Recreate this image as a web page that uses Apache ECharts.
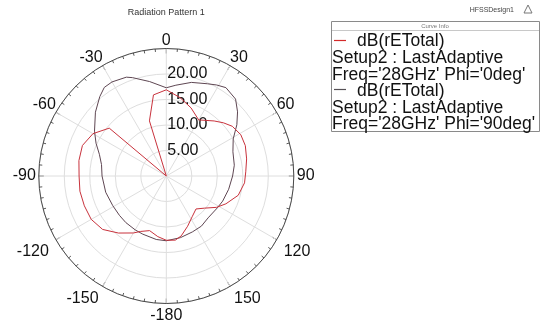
<!DOCTYPE html>
<html>
<head>
<meta charset="utf-8">
<script src="https://cdn.jsdelivr.net/npm/echarts@6/dist/echarts.min.js"></script>
<style>
  html, body { margin: 0; padding: 0; background: #fff; }
  #chart { width: 542px; height: 324px; }
</style>
</head>
<body>
<div id="chart"></div>
<script>
// Radiation pattern, dB(rETotal) vs theta (deg)
const phi0Angles = [-180, -172, -163, -155, -150, -140, -130, -120, -110, -100, -90, -80, -70, -60, -50, -35, -17, -9, 0, 10, 20, 30, 41, 47, 53, 61, 69, 78, 87, 95, 105, 115, 122, 130, 138, 147, 157, 166, 172, 180];
const phi0Values = [12.6, 12.0, 11.2, 12.0, 12.9, 14.6, 16.3, 17.0, 17.1, 17.2, 17.1, 17.4, 17.5, 16.6, 14.6, 0, 11.3, 16.1, 16.9, 15.6, 14.2, 12.7, 14.3, 15.3, 16.2, 16.7, 16.6, 16.1, 15.6, 15.4, 14.6, 12.9, 11.6, 9.8, 8.7, 9.4, 10.7, 12.1, 12.7, 12.6];

const phi90Angles = [-180, -171, -158, -150, -139, -130, -119, -105, -90, -80, -72, -65, -58, -48, -40, -35, -30, -22, -19, -10, 0, 6, 15, 24, 29, 34, 42, 48, 54, 61, 70, 81, 90, 102, 114, 122, 135, 145, 155, 167, 180];
const phi90Values = [12.7, 12.6, 12.3, 12.2, 12.1, 12.0, 12.0, 12.3, 12.6, 12.9, 13.8, 15.2, 16.6, 18.7, 20.3, 21.2, 21.3, 20.9, 20.4, 18.8, 17.3, 17.9, 19.0, 19.8, 20.4, 20.9, 20.3, 18.8, 17.1, 15.0, 13.9, 13.5, 13.0, 12.5, 12.1, 11.8, 11.6, 12.0, 12.1, 12.4, 12.7];

const radialTicks = [5, 10, 15, 20];
const legendLines = [
  { name: "dB(rETotal)", detail: "Setup2 : LastAdaptive\nFreq='28GHz' Phi='0deg'", color: "#d42a2a" },
  { name: "dB(rETotal)", detail: "Setup2 : LastAdaptive\nFreq='28GHz' Phi='90deg'", color: "#555055" },
];

const FONT = "'Liberation Sans', Arial, sans-serif";
const CX = 166.3, CY = 176, R = 127.5;

// HFSS uses -180..180, the axis here runs 0..360 so that 0 sits on top
const toAxis = (a) => (a + 360) % 360;
const toPairs = (angles, values) => angles.map((a, i) => [values[i], toAxis(a)]);

// small nudges so the angle labels sit where HFSS puts them
const labelPad = {
  90: [0, 0, 0, 3],
  120: [4, 0, 0, 7],
  150: [4, 0, 0, 4],
  180: [4, 0, 0, 0],
  210: [4, 4, 0, 0],
  240: [4, 7, 0, 0],
  270: [0, 3, 0, 0],
};
const angleRich = { d: { fontSize: 16, color: "#111" } };
Object.keys(labelPad).forEach((k) => {
  angleRich["p" + k] = { fontSize: 16, color: "#111", padding: labelPad[k] };
});

const chart = echarts.init(document.getElementById("chart"), null, { renderer: "canvas" });

// Legend box ("Curve Info") drawn by hand, like the HFSS report
const legendGraphics = [
  {
    type: "rect",
    shape: { x: 331.5, y: 21.5, width: 208, height: 110 },
    style: { fill: "#fff", stroke: "#8a8a8a", lineWidth: 1 },
  },
  {
    type: "text",
    style: { x: 435, y: 26, text: "Curve Info", fontSize: 6, fill: "#777", align: "center", verticalAlign: "middle", fontFamily: FONT },
  },
  {
    type: "line",
    shape: { x1: 332, y1: 30.5, x2: 539, y2: 30.5 },
    style: { stroke: "#c8c8c8", lineWidth: 1 },
  },
];
legendLines.forEach((item, i) => {
  const top = 41.5 + i * 49.5;
  legendGraphics.push(
    {
      type: "line",
      shape: { x1: 334, y1: Math.round(top) - 1.5, x2: 346, y2: Math.round(top) - 1.5 },
      style: { stroke: item.color, lineWidth: 1.2 },
      z: 10,
    },
    {
      type: "text",
      style: { x: 357, y: top, text: item.name, fontSize: 17.5, fill: "#111", verticalAlign: "middle", fontFamily: FONT },
    },
    {
      type: "text",
      style: { x: 332, y: top + 8.5, text: item.detail, fontSize: 17.5, lineHeight: 16.5, fill: "#111", verticalAlign: "top", fontFamily: FONT },
    }
  );
});

const option = {
  animation: false,
  backgroundColor: "#fff",
  textStyle: { fontFamily: FONT },
  polar: {
    center: [CX, CY],
    radius: R,
  },
  angleAxis: {
    type: "value",
    min: 0,
    max: 360,
    interval: 30,
    startAngle: 90,
    clockwise: true,
    axisLine: { show: true, lineStyle: { color: "#4a4a4a", width: 1 } },
    axisTick: { show: true, inside: true, length: 5, lineStyle: { color: "#4a4a4a" } },
    minorTick: { show: true, splitNumber: 6, length: 3, lineStyle: { color: "#5a5a5a" } },
    axisLabel: {
      fontSize: 16,
      color: "#111",
      margin: 0,
      formatter: (v) => {
        if (v >= 360) return "";
        const txt = String(v >= 180 ? v - 360 : v);
        const key = labelPad[v] ? "p" + v : "d";
        return "{" + key + "|" + txt + "}";
      },
      rich: angleRich,
    },
    splitLine: { show: true, lineStyle: { color: "#dedede", width: 1 } },
  },
  radiusAxis: {
    type: "value",
    min: 0,
    max: 25,
    interval: 5,
    axisLine: { show: false },
    axisTick: { show: false },
    axisLabel: {
      fontSize: 16,
      color: "#111",
      margin: -1,
      align: "left",
      padding: [0, 0, 10, 0],
      formatter: (v) => (radialTicks.includes(v) ? v.toFixed(2) : ""),
    },
    splitLine: { show: true, lineStyle: { color: "#dedede", width: 1 } },
  },
  graphic: [
    {
      type: "text",
      style: { x: CX, y: 13, text: "Radiation Pattern 1", fontSize: 9, fill: "#333", align: "center", verticalAlign: "middle", fontFamily: FONT },
    },
    {
      type: "text",
      style: { x: 514, y: 10, text: "HFSSDesign1", fontSize: 7, fill: "#444", align: "right", verticalAlign: "middle", fontFamily: FONT },
    },
    {
      type: "polygon",
      shape: { points: [[524, 13], [528, 5], [532, 13]] },
      style: { fill: "none", stroke: "#777", lineWidth: 1 },
    },
    ...legendGraphics,
  ],
  series: [
    {
      name: "Phi=0deg",
      type: "line",
      coordinateSystem: "polar",
      data: toPairs(phi0Angles, phi0Values),
      showSymbol: false,
      smooth: false,
      lineStyle: { color: "#c8323c", width: 1 },
      z: 3,
    },
    {
      name: "Phi=90deg",
      type: "line",
      coordinateSystem: "polar",
      data: toPairs(phi90Angles, phi90Values),
      showSymbol: false,
      smooth: false,
      lineStyle: { color: "#5e4652", width: 1 },
      z: 2,
    },
  ],
};

chart.setOption(option);
</script>
</body>
</html>
